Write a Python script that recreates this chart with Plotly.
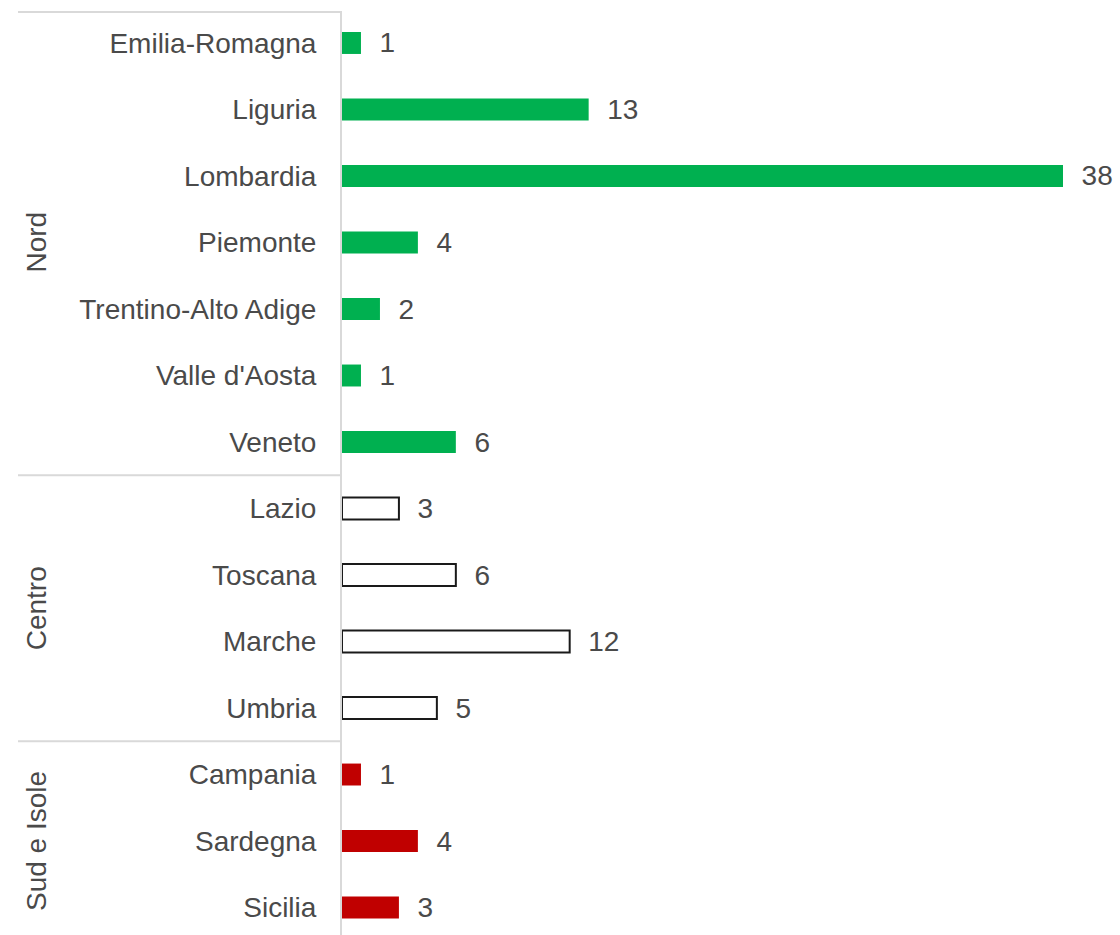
import plotly.graph_objects as go

groups = ["Nord", "Centro", "Sud e Isole"]
nord_regions = ["Emilia-Romagna", "Liguria", "Lombardia", "Piemonte",
                "Trentino-Alto Adige", "Valle d'Aosta", "Veneto"]
nord_values = [1, 13, 38, 4, 2, 1, 6]
centro_regions = ["Lazio", "Toscana", "Marche", "Umbria"]
centro_values = [3, 6, 12, 5]
sud_regions = ["Campania", "Sardegna", "Sicilia"]
sud_values = [1, 4, 3]

all_regions = nord_regions + centro_regions + sud_regions
group_members = [nord_regions, centro_regions, sud_regions]

FONT = "Arial, Liberation Sans, Helvetica, sans-serif"
TXT = "#4a4a4a"
GRID = "#d9d9d9"

W, H = 1120, 935
ML, MR, MT, MB = 342, 57, 12, 0
plot_w = W - ML - MR

fig = go.Figure()

def add(regions, values, fill, line_color, line_width):
    fig.add_trace(go.Bar(
        y=regions, x=values, orientation="h", width=0.33,
        marker=dict(color=fill, line=dict(color=line_color, width=line_width)),
        texttemplate="\u00a0\u00a0%{x}", textposition="outside",
        textfont=dict(size=28, color=TXT, family=FONT),
        constraintext="none", cliponaxis=False, showlegend=False,
    ))

add(nord_regions, nord_values, "#00b050", "#00b050", 0)
add(centro_regions, centro_values, "#ffffff", "#1a1a1a", 2)
add(sud_regions, sud_values, "#c00000", "#c00000", 0)

# separators and group labels
line_x0 = (18 - ML) / plot_w
shapes = [dict(type="line", xref="paper", yref="paper", x0=line_x0, x1=0,
               y0=1, y1=1, line=dict(color=GRID, width=2))]
annotations = []
start = 0
for g, members in zip(groups, group_members):
    n = len(members)
    end = start + n
    if start > 0:
        shapes.append(dict(type="line", xref="paper", yref="y", x0=line_x0, x1=0,
                           y0=start - 0.5, y1=start - 0.5,
                           line=dict(color=GRID, width=2)))
    annotations.append(dict(text=g, xref="paper", yref="y",
                            x=(36 - ML) / plot_w, y=(start + end - 1) / 2,
                            textangle=-90, showarrow=False, xanchor="center",
                            yanchor="middle",
                            font=dict(size=28, color=TXT, family=FONT)))
    start = end

fig.update_layout(
    width=W, height=H,
    margin=dict(l=ML, r=MR, t=MT, b=MB),
    plot_bgcolor="white", paper_bgcolor="white",
    barmode="overlay",
    shapes=shapes, annotations=annotations,
    font=dict(family=FONT, color=TXT, size=28),
)
fig.update_xaxes(range=[0, 38], visible=False, showgrid=False, zeroline=False)
fig.update_yaxes(
    categoryorder="array", categoryarray=all_regions,
    range=[13.413, -0.466],
    showgrid=False, zeroline=False,
    showline=True, linecolor=GRID, linewidth=2,
    ticks="outside", ticklen=18, tickcolor="rgba(0,0,0,0)",
    tickfont=dict(size=28, color=TXT, family=FONT),
)

fig.write_html("out.html")
